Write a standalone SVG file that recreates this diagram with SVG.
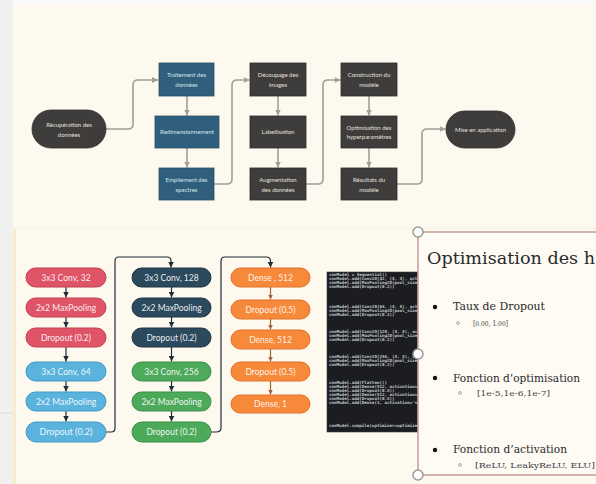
<svg xmlns="http://www.w3.org/2000/svg" width="596" height="484" viewBox="0 0 596 484">
  <style>
    .flow-t { font-family: Lato, "Liberation Sans", sans-serif; font-size: 6px; text-anchor: middle; }
    .blue { fill: #2f5f7c; stroke: #264f68; stroke-width: 0.8; }
    .dark { fill: #3f3c3c; stroke: #2e2c2c; stroke-width: 0.8; }
    .tb { fill: #d6e4ec; }
    .td { fill: #e4e2df; }
    .flow-c { fill: none; stroke: #a29d96; stroke-width: 1.6; stroke-linejoin: round; }
    .layer-t { font-family: Lato, "Liberation Sans", sans-serif; font-size: 8.5px; fill: #ffffff; text-anchor: middle; fill-opacity: 0.92; }
    .red { fill: #e05468; stroke: #c2404f; stroke-width: 1; }
    .lblue { fill: #59b3dd; stroke: #3f9ac6; stroke-width: 1; }
    .navy { fill: #2c4a5d; stroke: #1f3545; stroke-width: 1; }
    .green { fill: #4daa5b; stroke: #3a8f48; stroke-width: 1; }
    .orange { fill: #f7893b; stroke: #e0722a; stroke-width: 1; }
    .net-c { fill: none; stroke: #1f2d38; stroke-width: 1.2; }
    .net-o { fill: none; stroke: #a0623a; stroke-width: 1.2; }
    .code { font-family: "DejaVu Sans Mono", "Liberation Mono", monospace; font-size: 4.2px; font-weight: bold; fill: #c3c9cf; }
    .slide-t { font-family: "DejaVu Serif", "Liberation Serif", serif; fill: #2a2a2a; }
    .sub-t { font-family: "DejaVu Serif", "Liberation Serif", serif; fill: #444444; }
    .handle { fill: #ffffff; stroke: #9a9a9a; stroke-width: 1.5; }
  </style>
  <defs>
    <marker id="arr-gray" viewBox="0 0 6 6" markerWidth="6" markerHeight="6" refX="6" refY="3" orient="auto" markerUnits="userSpaceOnUse">
      <path d="M0,0 L6,3 L0,6 z" fill="#a29d96"/>
    </marker>
    <marker id="arr-dark" viewBox="0 0 6 6" markerWidth="6" markerHeight="6" refX="6" refY="3" orient="auto" markerUnits="userSpaceOnUse">
      <path d="M0,0 L6,3 L0,6 z" fill="#1f2d38"/>
    </marker>
    <marker id="arr-brown" viewBox="0 0 6 6" markerWidth="5" markerHeight="5" refX="6" refY="3" orient="auto" markerUnits="userSpaceOnUse">
      <path d="M0,0 L6,3 L0,6 z" fill="#a0623a"/>
    </marker>
    <clipPath id="code-clip">
      <rect x="327" y="272" width="91" height="160"/>
    </clipPath>
  </defs>

  <!-- page background -->
  <rect x="0" y="0" width="596" height="484" fill="#fdf9ee"/>
  <rect x="0" y="0" width="596" height="5" fill="#fafafa"/>
  <rect x="0" y="0" width="13" height="484" fill="#f0f0f0"/>
  <line x1="0" y1="413" x2="13" y2="413" stroke="#d8d8d8" stroke-width="0.8"/>
  <rect x="13" y="229" width="3" height="255" fill="#f8ecc9"/>
  <line x1="13" y1="228.5" x2="596" y2="228.5" stroke="#f6f1e2" stroke-width="1"/>

  <!-- pipeline connectors -->
  <g id="flow-connectors">
    <path class="flow-c" d="M106,129 H128 Q133,129 133,124 V85 Q133,80 138,80 H158" marker-end="url(#arr-gray)"/>
    <line class="flow-c" x1="187" y1="96" x2="187" y2="115.5" marker-end="url(#arr-gray)"/>
    <line class="flow-c" x1="187" y1="148" x2="187" y2="167.5" marker-end="url(#arr-gray)"/>
    <path class="flow-c" d="M214,184 H227 Q232,184 232,179 V85 Q232,80 237,80 H249.5" marker-end="url(#arr-gray)"/>
    <line class="flow-c" x1="278" y1="96" x2="278" y2="115.5" marker-end="url(#arr-gray)"/>
    <line class="flow-c" x1="278" y1="148" x2="278" y2="167.5" marker-end="url(#arr-gray)"/>
    <path class="flow-c" d="M306,184 H318 Q323,184 323,179 V85 Q323,80 328,80 H340.5" marker-end="url(#arr-gray)"/>
    <line class="flow-c" x1="369" y1="96" x2="369" y2="115.5" marker-end="url(#arr-gray)"/>
    <line class="flow-c" x1="369" y1="148" x2="369" y2="167.5" marker-end="url(#arr-gray)"/>
    <path class="flow-c" d="M397,184 H417 Q422,184 422,179 V134 Q422,129 427,129 H445.5" marker-end="url(#arr-gray)"/>
  </g>

  <!-- pipeline steps -->
  <g id="recuperation">
    <rect class="dark" x="32" y="110" width="74" height="38" rx="19" stroke-width="1.4"/>
    <text class="flow-t td" x="69" y="127">Récupération des</text>
    <text class="flow-t td" x="69" y="137">données</text>
  </g>
  <g id="traitement">
    <rect class="blue" x="159" y="63" width="55" height="33"/>
    <text class="flow-t tb" x="186.5" y="77">Traitement des</text>
    <text class="flow-t tb" x="186.5" y="87">données</text>
  </g>
  <g id="redimensionnement">
    <rect class="blue" x="155" y="116" width="64" height="32"/>
    <text class="flow-t tb" x="187" y="134">Redimensionnement</text>
  </g>
  <g id="empilement">
    <rect class="blue" x="159" y="168" width="55" height="32"/>
    <text class="flow-t tb" x="186.5" y="182">Empilement des</text>
    <text class="flow-t tb" x="186.5" y="192">spectres</text>
  </g>
  <g id="decoupage">
    <rect class="dark" x="250" y="63" width="56" height="33"/>
    <text class="flow-t td" x="278" y="77">Découpage des</text>
    <text class="flow-t td" x="278" y="87">images</text>
  </g>
  <g id="labellisation">
    <rect class="dark" x="250" y="116" width="56" height="32"/>
    <text class="flow-t td" x="278" y="134">Labellisation</text>
  </g>
  <g id="augmentation">
    <rect class="dark" x="250" y="168" width="56" height="32"/>
    <text class="flow-t td" x="278" y="182">Augmentation</text>
    <text class="flow-t td" x="278" y="192">des données</text>
  </g>
  <g id="construction">
    <rect class="dark" x="341" y="63" width="56" height="33"/>
    <text class="flow-t td" x="369" y="77">Construction du</text>
    <text class="flow-t td" x="369" y="87">modèle</text>
  </g>
  <g id="optimisation">
    <rect class="dark" x="341" y="116" width="56" height="32"/>
    <text class="flow-t td" x="369" y="130">Optimisation des</text>
    <text class="flow-t td" x="369" y="139">hyperparamètres</text>
  </g>
  <g id="resultats">
    <rect class="dark" x="341" y="168" width="56" height="32"/>
    <text class="flow-t td" x="369" y="182">Résultats du</text>
    <text class="flow-t td" x="369" y="192">modèle</text>
  </g>
  <g id="mise-en-application">
    <rect class="dark" x="446" y="111" width="69" height="37" rx="18.5" stroke-width="1.4"/>
    <text class="flow-t td" x="480.5" y="132">Mise en application</text>
  </g>

  <!-- network connectors -->
  <g id="net-connectors">
    <line class="net-c" x1="66" y1="287" x2="66" y2="297.5" marker-end="url(#arr-dark)"/>
    <line class="net-c" x1="66" y1="317" x2="66" y2="327.5" marker-end="url(#arr-dark)"/>
    <line class="net-c" x1="66" y1="347" x2="66" y2="361.5" marker-end="url(#arr-dark)"/>
    <line class="net-c" x1="66" y1="381" x2="66" y2="391.5" marker-end="url(#arr-dark)"/>
    <line class="net-c" x1="66" y1="411" x2="66" y2="421.5" marker-end="url(#arr-dark)"/>
    <path class="net-c" d="M106,432 H111 Q115,432 115,428 V261 Q115,257 119,257 H167 Q171,257 171,261 V267.5" marker-end="url(#arr-dark)"/>
    <line class="net-c" x1="171.5" y1="287" x2="171.5" y2="297.5" marker-end="url(#arr-dark)"/>
    <line class="net-c" x1="171.5" y1="317" x2="171.5" y2="327.5" marker-end="url(#arr-dark)"/>
    <line class="net-c" x1="171.5" y1="347" x2="171.5" y2="361.5" marker-end="url(#arr-dark)"/>
    <line class="net-c" x1="171.5" y1="381" x2="171.5" y2="391.5" marker-end="url(#arr-dark)"/>
    <line class="net-c" x1="171.5" y1="411" x2="171.5" y2="421.5" marker-end="url(#arr-dark)"/>
    <path class="net-c" d="M211,432 H216 Q221,432 221,428 V261 Q221,257 225,257 H266 Q270.5,257 270.5,261 V267.5" marker-end="url(#arr-dark)"/>
    <line class="net-o" x1="270.5" y1="287" x2="270.5" y2="299.5" marker-end="url(#arr-brown)"/>
    <line class="net-o" x1="270.5" y1="319" x2="270.5" y2="329.5" marker-end="url(#arr-brown)"/>
    <line class="net-o" x1="270.5" y1="349" x2="270.5" y2="361.5" marker-end="url(#arr-brown)"/>
    <line class="net-o" x1="270.5" y1="381" x2="270.5" y2="394.5" marker-end="url(#arr-brown)"/>
  </g>

  <!-- network layers: block 1 -->
  <g id="conv32"><rect class="red" x="26" y="268" width="80" height="19" rx="9.5"/><text class="layer-t" x="66" y="280.5">3x3 Conv, 32</text></g>
  <g id="pool1"><rect class="red" x="26" y="298" width="80" height="19" rx="9.5"/><text class="layer-t" x="66" y="310.5">2x2 MaxPooling</text></g>
  <g id="drop1"><rect class="red" x="26" y="328" width="80" height="19" rx="9.5"/><text class="layer-t" x="66" y="340.5">Dropout (0.2)</text></g>
  <g id="conv64"><rect class="lblue" x="26" y="362" width="80" height="19" rx="9.5"/><text class="layer-t" x="66" y="374.5">3x3 Conv, 64</text></g>
  <g id="pool2"><rect class="lblue" x="26" y="392" width="80" height="19" rx="9.5"/><text class="layer-t" x="66" y="404.5">2x2 MaxPooling</text></g>
  <g id="drop2"><rect class="lblue" x="26" y="422" width="80" height="20" rx="10"/><text class="layer-t" x="66" y="435" style="font-size:9px">Dropout (0.2)</text></g>

  <!-- network layers: block 2 -->
  <g id="conv128"><rect class="navy" x="132" y="268" width="79" height="19" rx="9.5"/><text class="layer-t" x="171.5" y="280.5">3x3 Conv, 128</text></g>
  <g id="pool3"><rect class="navy" x="132" y="298" width="79" height="19" rx="9.5"/><text class="layer-t" x="171.5" y="310.5">2x2 MaxPooling</text></g>
  <g id="drop3"><rect class="navy" x="132" y="328" width="79" height="19" rx="9.5"/><text class="layer-t" x="171.5" y="340.5">Dropout (0.2)</text></g>
  <g id="conv256"><rect class="green" x="132" y="362" width="79" height="19" rx="9.5"/><text class="layer-t" x="171.5" y="374.5">3x3 Conv, 256</text></g>
  <g id="pool4"><rect class="green" x="132" y="392" width="79" height="19" rx="9.5"/><text class="layer-t" x="171.5" y="404.5">2x2 MaxPooling</text></g>
  <g id="drop4"><rect class="green" x="132" y="422" width="79" height="20" rx="10"/><text class="layer-t" x="171.5" y="435">Dropout (0.2)</text></g>

  <!-- network layers: dense head -->
  <g id="dense1"><rect class="orange" x="231" y="268" width="79" height="19" rx="9.5"/><text class="layer-t" x="270.5" y="280.5">Dense , 512</text></g>
  <g id="drop5"><rect class="orange" x="231" y="300" width="79" height="19" rx="9.5"/><text class="layer-t" x="270.5" y="312.5">Dropout (0.5)</text></g>
  <g id="dense2"><rect class="orange" x="231" y="330" width="79" height="19" rx="9.5"/><text class="layer-t" x="270.5" y="342.5">Dense, 512</text></g>
  <g id="drop6"><rect class="orange" x="231" y="362" width="79" height="19" rx="9.5"/><text class="layer-t" x="270.5" y="374.5">Dropout (0.5)</text></g>
  <g id="dense3"><rect class="orange" x="231" y="395" width="79" height="18" rx="9"/><text class="layer-t" x="270.5" y="407">Dense, 1</text></g>

  <!-- Keras model source -->
  <g id="code-listing">
    <rect x="327" y="272" width="92" height="160" fill="#1c1d20" stroke="#3a3a3a" stroke-width="0.6"/>
    <g class="code" clip-path="url(#code-clip)">
      <text x="329" y="276">cnnModel = Sequential()</text>
      <text x="329" y="280">cnnModel.add(Conv2D(32, (3, 3), activation='relu'))</text>
      <text x="329" y="284">cnnModel.add(MaxPooling2D(pool_size=(2, 2)))</text>
      <text x="329" y="288">cnnModel.add(Dropout(0.2))</text>
      <text x="329" y="308">cnnModel.add(Conv2D(64, (3, 3), activation='relu'))</text>
      <text x="329" y="312">cnnModel.add(MaxPooling2D(pool_size=(2, 2)))</text>
      <text x="329" y="316">cnnModel.add(Dropout(0.2))</text>
      <text x="329" y="333">cnnModel.add(Conv2D(128, (3, 3), activation='relu'))</text>
      <text x="329" y="337">cnnModel.add(MaxPooling2D(pool_size=(2, 2)))</text>
      <text x="329" y="341">cnnModel.add(Dropout(0.2))</text>
      <text x="329" y="358">cnnModel.add(Conv2D(256, (3, 3), activation='relu'))</text>
      <text x="329" y="362">cnnModel.add(MaxPooling2D(pool_size=(2, 2)))</text>
      <text x="329" y="366">cnnModel.add(Dropout(0.2))</text>
      <text x="329" y="384">cnnModel.add(Flatten())</text>
      <text x="329" y="388">cnnModel.add(Dense(512, activation='relu'))</text>
      <text x="329" y="392">cnnModel.add(Dropout(0.5))</text>
      <text x="329" y="396">cnnModel.add(Dense(512, activation='relu'))</text>
      <text x="329" y="400">cnnModel.add(Dropout(0.5))</text>
      <text x="329" y="404">cnnModel.add(Dense(1, activation='sigmoid'))</text>
      <text x="329" y="427">cnnModel.compile(optimizer=optimizer, loss='binary_crossentropy')</text>
    </g>
  </g>

  <!-- hyperparameter slide -->
  <g id="slide">
    <rect x="418" y="232" width="190" height="243" fill="#fdfbf4" stroke="#c9a39b" stroke-width="1.6"/>
    <text class="slide-t" x="427" y="264" font-size="16" textLength="168" lengthAdjust="spacingAndGlyphs">Optimisation des h</text>

    <circle cx="435" cy="307" r="2.2" fill="#111"/>
    <text class="slide-t" x="453" y="310" font-size="11" textLength="92" lengthAdjust="spacingAndGlyphs">Taux de Dropout</text>
    <circle cx="458" cy="323" r="1.4" fill="none" stroke="#888" stroke-width="0.7"/>
    <text class="sub-t" x="473" y="326" font-size="8" textLength="35" lengthAdjust="spacingAndGlyphs">[0.00, 1.00]</text>

    <circle cx="435" cy="378" r="2.2" fill="#111"/>
    <text class="slide-t" x="453" y="382" font-size="11" textLength="127" lengthAdjust="spacingAndGlyphs">Fonction d’optimisation</text>
    <circle cx="460" cy="393" r="1.4" fill="none" stroke="#888" stroke-width="0.7"/>
    <text class="sub-t" x="477" y="396" font-size="8" textLength="73" lengthAdjust="spacingAndGlyphs">[1e-5,1e-6,1e-7]</text>

    <circle cx="435" cy="450" r="2.2" fill="#111"/>
    <text class="slide-t" x="453" y="453" font-size="11" textLength="114" lengthAdjust="spacingAndGlyphs">Fonction d’activation</text>
    <circle cx="460" cy="465" r="1.4" fill="none" stroke="#888" stroke-width="0.7"/>
    <text class="sub-t" x="475" y="468" font-size="8" textLength="120" lengthAdjust="spacingAndGlyphs">[ReLU,  LeakyReLU, ELU]</text>

    <circle class="handle" cx="418" cy="232" r="5"/>
    <circle class="handle" cx="418" cy="354" r="5"/>
    <circle class="handle" cx="418" cy="475" r="5"/>
  </g>
</svg>
